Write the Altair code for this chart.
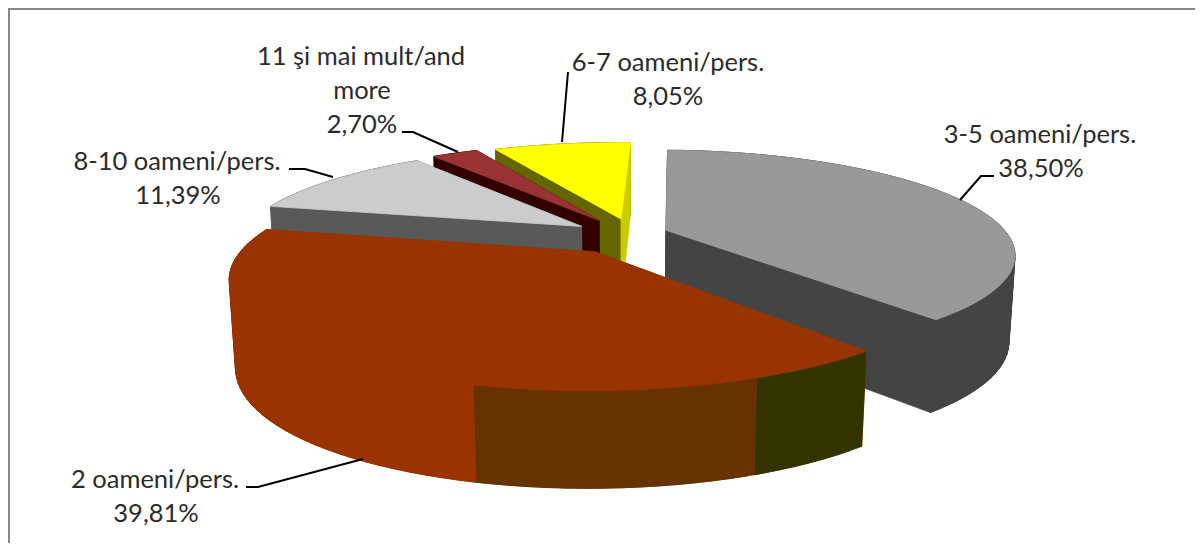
import math
import altair as alt

# ---- data ----
categories = ["3-5 oameni/pers.", "2 oameni/pers.", "8-10 oameni/pers.", "11 şi mai mult/and more", "6-7 oameni/pers."]
shares = [38.50, 39.81, 11.39, 2.70, 8.05]
share_labels = ["38,50%", "39,81%", "11,39%", "2,70%", "8,05%"]

# ---- style ----
top_colors = ["#999999", "#993300", "#CCCCCC", "#993333", "#FFFF00"]
start_wall = ["#444444", "#993300", "#595959", "#330000", "#666600"]
end_wall = ["#444444", "#993300", "#595959", "#330000", "#CCCC00"]
rim_colors = ["#444444", None, "#595959", "#330000", "#666600"]
red_rim_bands = [(158.0, "#333300"), (194.6, "#663300"), (400, "#993300")]
paint_order = [4, 3, 2, 0, 1]
explode_x = [1, 1, 1, 0.9, 0]
explode_y = [1, 1, 1, 1.05, 1]

# ---- camera of the tilted pie ----
CX, CY, A, B, K, H, HG, M, EX, EY, ROT = 621, 236, 343, 100, 0.22, 85, 0.13, 0.015, 0.14, 0.18, 2.0


def project(px, py, z):
    w = 1 - K * py
    return [CX + A * px / (w + M * z), CY + B * py / w + z * H * (1 + HG * py)]


total = sum(shares)
features = []


def add(poly, color):
    features.append({
        "type": "Feature",
        "properties": {"color": color},
        "geometry": {"type": "Polygon", "coordinates": [poly + [poly[0]]]},
    })


def rim_point(a, ox, oy):
    r = math.radians(a)
    return ox + math.sin(r), oy - math.cos(r)


def radial_wall(ang, ox, oy, col):
    e = rim_point(ang, ox, oy)
    add([project(ox, oy, 0), project(*e, 0), project(*e, 1), project(ox, oy, 1)], col)


bounds = []
acc = ROT
for s in shares:
    bounds.append((acc, acc + s / total * 360))
    acc += s / total * 360

for i in paint_order:
    a0, a1 = bounds[i]
    mid = math.radians((a0 + a1) / 2)
    ox, oy = EX * explode_x[i] * math.sin(mid), -EY * explode_y[i] * math.cos(mid)
    steps = [a0 + (a1 - a0) * t / 60 for t in range(61)]
    radial_wall(a0, ox, oy, start_wall[i])
    # outer wall: narrow overlapping quads, so the fold at the silhouette stays filled without seams
    if rim_colors[i] is not None:
        bands = [(a0, a1, rim_colors[i])]
    else:
        bands = []
        lo = a0
        for hi, col in red_rim_bands:
            bands.append((lo, min(hi, a1), col))
            lo = hi
            if hi >= a1:
                break
    for lo, hi, col in bands:
        seg = sorted({lo, hi, *[a for a in steps if lo <= a <= hi]})
        for j in range(len(seg) - 1):
            p, q = seg[j], seg[min(j + 2, len(seg) - 1)]
            rp, rq = rim_point(p, ox, oy), rim_point(q, ox, oy)
            add([project(*rp, 0), project(*rq, 0), project(*rq, 1), project(*rp, 1)], col)
    radial_wall(a1, ox, oy, end_wall[i])
    # top face
    add([project(ox, oy, 0)] + [project(*rim_point(a, ox, oy), 0) for a in steps], top_colors[i])

W, Ht = 1187, 535
x_scale = alt.Scale(domain=[8, 8 + W], range=[0, W])
y_scale = alt.Scale(domain=[8, 8 + Ht], range=[0, Ht])

pie = alt.Chart(alt.InlineData(
    values={"type": "FeatureCollection", "features": features},
    format=alt.DataFormat(property="features", type="json"),
)).mark_geoshape(strokeWidth=0.8).encode(
    fill=alt.Fill("properties.color:N", scale=None),
    stroke=alt.Stroke("properties.color:N", scale=None),
).project(type="identity", scale=1, translate=[-8, -8])

# ---- annotation layout ----
label_rows = [
    (categories[0], 1040, 135), (share_labels[0], 1041, 169),
    (categories[1], 155, 480), (share_labels[1], 156, 514),
    (categories[2], 177, 162), (share_labels[2], 178, 196),
    ("11 şi mai mult/and", 361, 57), ("more", 362, 91), (share_labels[3], 362, 125),
    (categories[4], 668, 63), (share_labels[4], 668, 97),
]
leaders = [
    [(960, 200), (981, 176), (994, 176)],
    [(363, 459), (258, 487), (246, 487)],
    [(289, 169), (305, 169), (333, 177)],
    [(402, 132), (413, 132), (458, 152)],
    [(562, 142), (568, 72)],
]

texts = alt.Chart(alt.Data(values=[{"t": t, "x": x, "y": y} for t, x, y in label_rows])).mark_text(
    font="Lato", fontSize=25.5, color="#2b2b2b", align="center", baseline="middle"
).encode(
    x=alt.X("x:Q", scale=x_scale, axis=None),
    y=alt.Y("y:Q", scale=y_scale, axis=None),
    text="t:N",
)

leader_rows = [
    {"k": n, "o": j, "x": p[0], "y": p[1]} for n, pts in enumerate(leaders) for j, p in enumerate(pts)
]
lines = alt.Chart(alt.Data(values=leader_rows)).mark_line(color="#000000", strokeWidth=2).encode(
    x=alt.X("x:Q", scale=x_scale, axis=None),
    y=alt.Y("y:Q", scale=y_scale, axis=None),
    detail="k:N",
    order="o:Q",
)

frame_rows = [
    {"k": 0, "o": 0, "x": 9, "y": 560}, {"k": 0, "o": 1, "x": 9, "y": 9},
    {"k": 0, "o": 2, "x": 1196, "y": 9}, {"k": 0, "o": 3, "x": 1196, "y": 560},
]
frame = alt.Chart(alt.Data(values=frame_rows)).mark_line(color="#868686", strokeWidth=2, clip=True).encode(
    x=alt.X("x:Q", scale=alt.Scale(domain=[8, 8 + W], range=[0, W], clamp=False), axis=None),
    y=alt.Y("y:Q", scale=y_scale, axis=None),
    order="o:Q",
)

chart = alt.layer(frame, pie, lines, texts).properties(
    width=W, height=Ht, padding=0,
    autosize=alt.AutoSizeParams(type="none"),
).configure_view(stroke=None)

chart.save("out.html", embed_options={"renderer": "svg", "actions": False})
